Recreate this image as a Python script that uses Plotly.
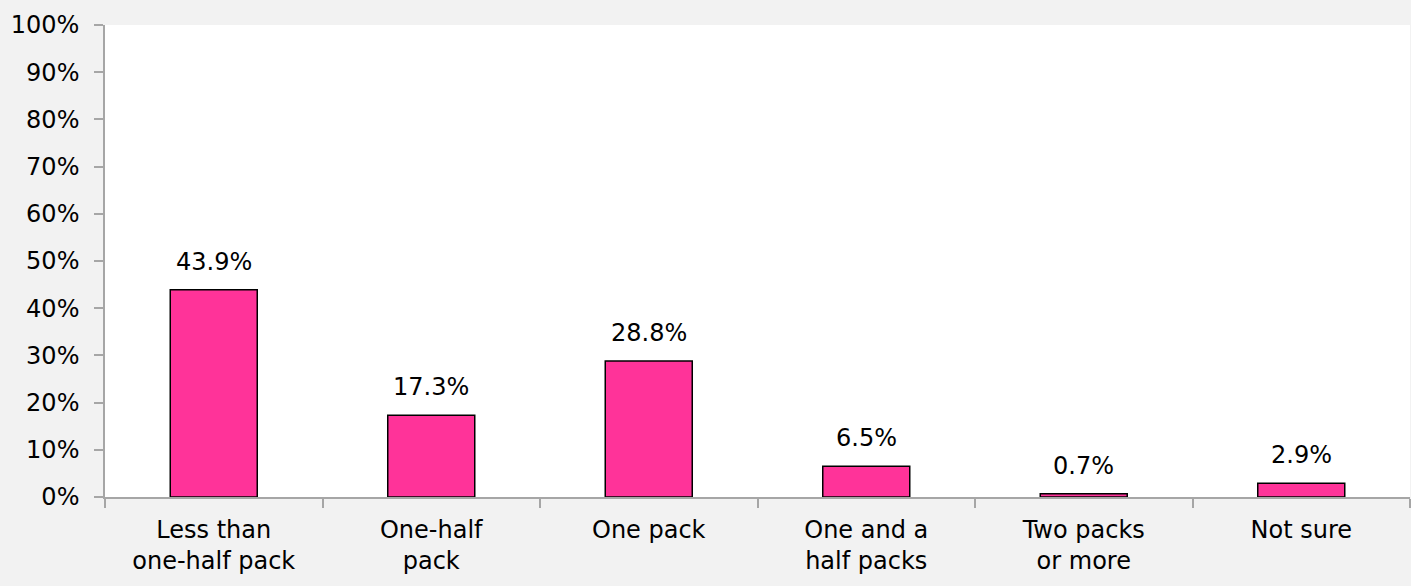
import plotly.graph_objects as go

# categories and values
categories = ["Less than<br>one-half pack", "One-half<br>pack", "One pack",
              "One and a<br>half packs", "Two packs<br>or more", "Not sure"]
values = [43.9, 17.3, 28.8, 6.5, 0.7, 2.9]
labels = [f"{v:.1f}%" for v in values]
ytick_vals = list(range(0, 101, 10))
ytick_text = [f"{v}%" for v in ytick_vals]

fig = go.Figure()
fig.add_trace(go.Bar(
    x=categories, y=values,
    marker=dict(color="#FF3399", line=dict(color="black", width=1.5)),
    width=0.4,
))

# value labels above bars
for c, v, t in zip(categories, values, labels):
    fig.add_annotation(x=c, y=v, text=t, showarrow=False, yanchor="bottom",
                       yshift=12, font=dict(size=24, color="black"))

fig.update_layout(
    width=1411, height=586,
    margin=dict(l=105, r=1, t=25, b=89),
    paper_bgcolor="#f2f2f2", plot_bgcolor="white",
    font=dict(family="DejaVu Sans, sans-serif", size=24, color="black"),
    showlegend=False,
)
fig.update_yaxes(range=[0, 100], tickvals=ytick_vals, ticktext=ytick_text,
                 showgrid=False, showline=True, linecolor="#a6a6a6", linewidth=1.5,
                 ticks="outside", ticklen=9, tickcolor="#a6a6a6", tickwidth=1.5,
                 ticklabelstandoff=10, zeroline=False)
fig.update_xaxes(showgrid=False, showline=True, linecolor="#a6a6a6", linewidth=1.5,
                 ticks="outside", tickson="boundaries", ticklen=9,
                 tickcolor="#a6a6a6", tickwidth=1.5, ticklabelstandoff=10)

fig.write_html("out.html", config={"displayModeBar": False},
               post_script="document.body.style.margin='0';")
